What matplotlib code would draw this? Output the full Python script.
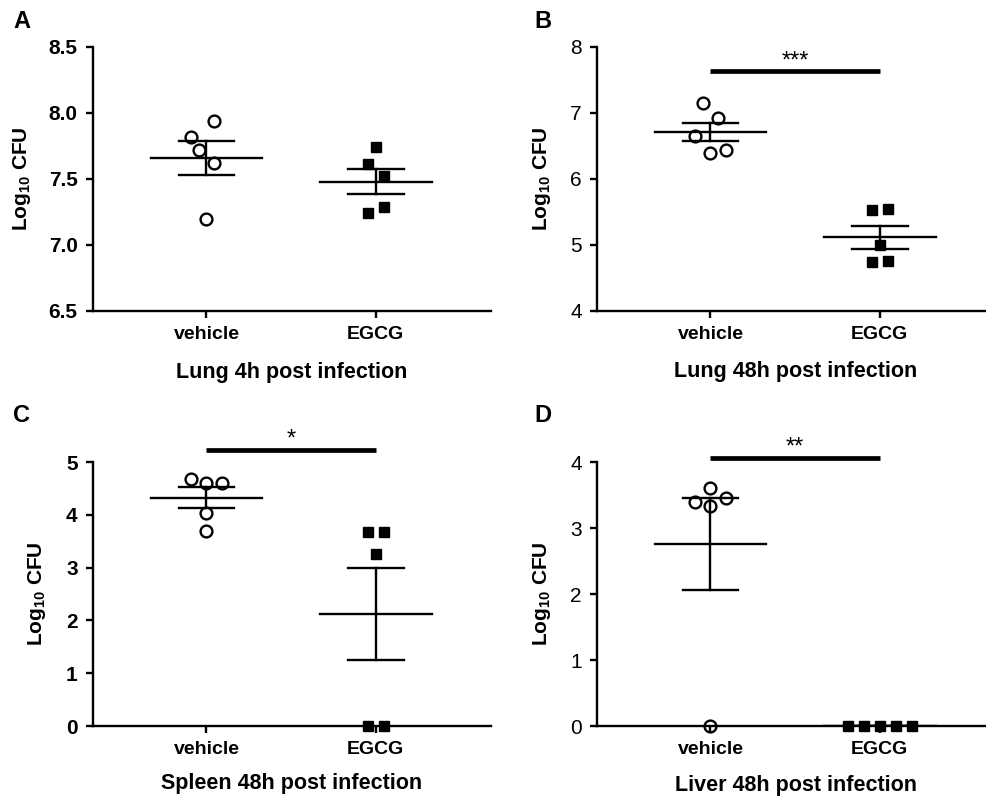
import numpy as np
import matplotlib
matplotlib.use('Agg')
import matplotlib.pyplot as plt

plt.rcParams['font.family'] = ['Liberation Sans', 'DejaVu Sans']

groups = ['vehicle', 'EGCG']

# Log10 CFU values
a_vehicle = [7.94, 7.82, 7.72, 7.62, 7.20]
a_egcg = [7.74, 7.61, 7.52, 7.29, 7.24]
b_vehicle = [7.15, 6.92, 6.65, 6.40, 6.44]
b_egcg = [5.53, 5.55, 5.00, 4.74, 4.76]
c_vehicle = [4.68, 4.60, 4.61, 4.03, 3.70]
c_egcg = [3.68, 3.68, 3.26, 0.0, 0.0]
d_vehicle = [3.40, 3.60, 3.45, 3.34, 0.0]
d_egcg = [0.0, 0.0, 0.0, 0.0, 0.0]

titles = ['Lung 4h post infection', 'Lung 48h post infection',
          'Spleen 48h post infection', 'Liver 48h post infection']
stars = [None, '***', '*', '**']

# horizontal scatter of the dots (in marker steps)
jit = {
    'A': ([0.5, -1, -0.5, 0.5, 0], [0, -0.5, 0.5, 0.5, -0.5]),
    'B': ([-0.5, 0.5, -1, 0, 1], [-0.5, 0.5, 0, -0.5, 0.5]),
    'C': ([-1, 0, 1, 0, 0], [-0.5, 0.5, 0, -0.5, 0.5]),
    'D': ([-1, 0, 1, 0, 0], [-2, -1, 0, 1, 2]),
}
step = 0.094

W, H = 987, 798
fig = plt.figure(figsize=(W / 100, H / 100), dpi=100)

def px_axes(x0, y0, x1, y1):
    return fig.add_axes([x0 / W, 1 - y1 / H, (x1 - x0) / W, (y1 - y0) / H])

panels = [
    ('A', px_axes(93, 47, 491, 311), a_vehicle, a_egcg, (6.5, 8.5), np.arange(6.5, 8.51, 0.5), True, 7.63, -0.15, -0.193),
    ('B', px_axes(597, 47, 995, 311), b_vehicle, b_egcg, (4, 8), np.arange(4, 9, 1), False, 7.63, -0.11, -0.189),
    ('C', px_axes(93, 462, 491, 726), c_vehicle, c_egcg, (0, 5), np.arange(0, 6, 1), True, 5.23, -0.112, -0.178),
    ('D', px_axes(597, 462, 995, 726), d_vehicle, d_egcg, (0, 4), np.arange(0, 5, 1), False, 4.06, -0.11, -0.186),
]

for i, (letter, ax, veh, egc, ylim, yt, boldticks, bar_y, ylx, xly) in enumerate(panels):
    for k, vals in enumerate([veh, egc]):
        vals = np.array(vals)
        xpos = k + 1 + np.array(jit[letter][k]) * step
        if k == 0:
            ax.plot(xpos, vals, 'o', ms=8.5, mfc='none', mec='black', mew=1.7,
                    clip_on=False, zorder=3)
        else:
            ax.plot(xpos, vals, 's', ms=7.5, mfc='black', mec='black',
                    clip_on=False, zorder=3)
        m = vals.mean()
        sem = vals.std(ddof=1) / np.sqrt(len(vals))
        c = k + 1
        ax.plot([c - 0.33, c + 0.33], [m, m], color='black', lw=1.7, zorder=4)
        ax.plot([c - 0.165, c + 0.165], [m + sem, m + sem], color='black', lw=1.7, zorder=4)
        ax.plot([c - 0.165, c + 0.165], [m - sem, m - sem], color='black', lw=1.7, zorder=4)
        ax.plot([c, c], [m - sem, m + sem], color='black', lw=1.7, zorder=4)

    if stars[i]:
        ax.plot([1, 2], [bar_y, bar_y], color='black', lw=3.4, clip_on=False,
                solid_capstyle='butt')
        ax.annotate(stars[i], xy=(1.5, bar_y), xytext=(0, 3),
                    textcoords='offset points', ha='center', va='baseline',
                    fontsize=17, annotation_clip=False)

    ax.set_xlim(0.33, 2.68)
    ax.set_ylim(*ylim)
    ax.set_yticks(yt)
    if letter == 'A':
        ax.set_yticklabels(['%.1f' % v for v in yt])
    else:
        ax.set_yticklabels(['%d' % v for v in yt])
    ax.set_xticks([1, 2])
    ax.set_xticklabels(groups, fontweight='bold', fontsize=14)
    for lab in ax.get_yticklabels():
        lab.set_fontsize(15)
        lab.set_fontweight('bold' if boldticks else 'normal')

    for s in ['top', 'right']:
        ax.spines[s].set_visible(False)
    for s in ['left', 'bottom']:
        ax.spines[s].set_linewidth(1.7)
    ax.tick_params(width=1.7, length=5, pad=6)

    ax.set_ylabel(r'Log$_{\mathregular{10}}$ CFU', fontsize=15, fontweight='bold')
    ax.yaxis.set_label_coords(ylx, 0.5)
    ax.set_xlabel(titles[i], fontsize=15.5, fontweight='bold')
    ax.xaxis.set_label_coords(0.5, xly)

fig.text(22 / W, 1 - 21 / H, 'A', fontsize=17, fontweight='bold', ha='center', va='center')
fig.text(543 / W, 1 - 21 / H, 'B', fontsize=17, fontweight='bold', ha='center', va='center')
fig.text(22 / W, 1 - 415 / H, 'C', fontsize=17, fontweight='bold', ha='center', va='center')
fig.text(543 / W, 1 - 415 / H, 'D', fontsize=17, fontweight='bold', ha='center', va='center')

fig.savefig('out.png', dpi=100)
